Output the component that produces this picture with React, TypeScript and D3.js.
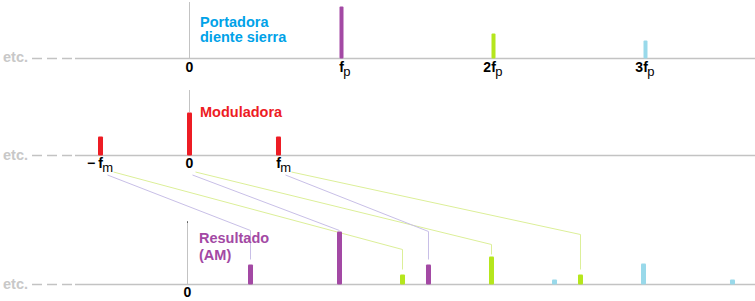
import React from "react";
import * as d3 from "d3";

const W = 755;
const H = 301;

// frequencies in units of the carrier frequency fp
const fmRatio = 0.5855;
const harmonics = [1, 2, 3];
const harmonicLabels = ["", "2", "3"];
const carrierAmp = [52, 25, 18];

const modOffsets = [-1, 0, 1];
const modAmp = [19, 43, 19];

const resultLowerAmp = [20, 10, 5];
const resultCenterAmp = [53, 28, 21];
const resultUpperAmp = [20, 10, 5];

const connFrom = [-1, -1, 0, 0, 1, 1];
const connHarm = [1, 2, 1, 2, 1, 2];
const connElbow = [54, 35, 54, 40, 53, 50];

const harmColors = ["#a349a4", "#b5e61d", "#99d9ea"];
const RED = "#ed1c24";
const GRAY = "#c3c3c3";
const connColors = ["#c8bfe7", "#dcef98"];
const FONT = "'Liberation Sans', Arial, sans-serif";

export default function App() {
  const xTop = d3.scaleLinear().domain([0, 1]).range([189.5, 341.5]);
  const xBot = d3.scaleLinear().domain([0, 1]).range([187.5, 339.5]);
  const yTopAxis = 58.5;
  const yMidAxis = 155.5;
  const yBotAxis = 284.5;
  const amp = d3.scaleLinear().domain([0, 60]).range([0, 60]);

  const axis = (y: number, etcY: number) => (
    <g>
      <text x={3} y={etcY} fontFamily={FONT} fontWeight="bold" fontSize={14.5} fill="#c8c8c8">
        etc.
      </text>
      <line x1={32} x2={75} y1={y} y2={y} stroke={GRAY} strokeWidth={1.5} strokeDasharray="10 5" />
      <line x1={75} x2={W} y1={y} y2={y} stroke={GRAY} strokeWidth={1.5} />
    </g>
  );

  const fLabel = (x: number, y: number, prefix: string, sub: string, key: string) => {
    const fW = 0.333 * 14;
    const pre = prefix === "\u2212" ? 8.2 + 3 : prefix ? 7.8 : 0;
    const start = x - fW / 2 - pre;
    return (
      <text key={key} x={start} y={y} fontFamily={FONT} fontSize={14} fill="#000" fontWeight="bold">
        {prefix ? <tspan>{prefix}</tspan> : null}
        <tspan dx={prefix === "\u2212" ? 3 : 0}>f</tspan>
        <tspan dx={-0.5} dy={4} fontSize={13} fontWeight="normal">
          {sub}
        </tspan>
      </text>
    );
  };

  const bar = (x: number, y0: number, a: number, color: string, w: number, key: string) => (
    <rect key={key} x={x - w / 2} y={y0 - amp(a)} width={w} height={amp(a)} fill={color} rx={1} />
  );

  // result bars
  const resultBars: JSX.Element[] = [];
  harmonics.forEach((h, i) => {
    const c = harmColors[i];
    resultBars.push(bar(xBot(h - fmRatio), yBotAxis, resultLowerAmp[i], c, 5, `rl${i}`));
    resultBars.push(bar(xBot(h), yBotAxis, resultCenterAmp[i], c, 5, `rc${i}`));
    resultBars.push(bar(xBot(h + fmRatio), yBotAxis, resultUpperAmp[i], c, 5, `ru${i}`));
  });

  const connectors = connFrom.map((f, i) => {
    const h = connHarm[i];
    const isGreen = h === 2 ? 1 : 0;
    const color = connColors[isGreen];
    const startOff = f === 0 ? (isGreen ? 6 : 3) : isGreen ? 13 : 7;
    const sx = xTop(f * fmRatio) + startOff;
    const sy = isGreen ? 172 : 175;
    const tf = h + f * fmRatio;
    const tx = xBot(tf);
    const ey = yBotAxis - amp(connElbow[i]);
    const targetAmp = f === 0 ? resultCenterAmp[h - 1] : f < 0 ? resultLowerAmp[h - 1] : resultUpperAmp[h - 1];
    const barTop = yBotAxis - amp(targetAmp);
    const gap = f === 0 ? 2 : 5;
    const endY = Math.max(ey, barTop - gap);
    const path = d3.path();
    path.moveTo(sx, sy);
    path.lineTo(tx, ey);
    path.lineTo(tx, endY);
    return <path key={`c${i}`} d={path.toString()} fill="none" stroke={color} strokeWidth={1} />;
  });

  return (
    <svg
      width={W}
      height={H}
      style={{ position: "absolute", left: 0, top: 0, background: "#fff" }}
    >
      {/* connectors */}
      {connectors}

      {/* TOP panel */}
      <line x1={189.5} x2={189.5} y1={2} y2={yTopAxis} stroke={GRAY} strokeWidth={1} />
      {axis(yTopAxis, 62)}
      {harmonics.map((h, i) => bar(xTop(h), yTopAxis, carrierAmp[i], harmColors[i], 4, `t${i}`))}
      <text x={xTop(0)} y={72} textAnchor="middle" fontFamily={FONT} fontWeight="bold" fontSize={14}>
        0
      </text>
      {harmonics.map((h, i) => fLabel(xTop(h), 72, harmonicLabels[i], "p", `tl${i}`))}
      <text fontFamily={FONT} fontWeight="bold" fontSize={14.5} fill="#00a2e8">
        <tspan x={200} y={26.5}>Portadora</tspan>
        <tspan x={200} y={41.5}>diente sierra</tspan>
      </text>

      {/* MIDDLE panel */}
      <line x1={189.5} x2={189.5} y1={90} y2={112} stroke={GRAY} strokeWidth={1} />
      {axis(yMidAxis, 160)}
      {modOffsets.map((m, i) => bar(xTop(m * fmRatio), yMidAxis, modAmp[i], RED, 5, `m${i}`))}
      <text x={xTop(0)} y={168} textAnchor="middle" fontFamily={FONT} fontWeight="bold" fontSize={14}>
        0
      </text>
      {fLabel(xTop(-fmRatio), 168, "\u2212", "m", "ml0")}
      {fLabel(xTop(fmRatio), 168, "", "m", "ml1")}
      <text x={200} y={117} fontFamily={FONT} fontWeight="bold" fontSize={14.5} fill={RED}>
        Moduladora
      </text>

      {/* BOTTOM panel */}
      <line x1={187.5} x2={187.5} y1={222} y2={yBotAxis} stroke={GRAY} strokeWidth={1} />
      <rect x={187} y={221.5} width={1} height={1} fill="#000" />
      {axis(yBotAxis, 289)}
      {resultBars}
      <text x={xBot(0)} y={297} textAnchor="middle" fontFamily={FONT} fontWeight="bold" fontSize={14}>
        0
      </text>
      <text fontFamily={FONT} fontWeight="bold" fontSize={14.5} fill="#a349a4">
        <tspan x={199} y={243}>Resultado</tspan>
        <tspan x={199} y={260}>(AM)</tspan>
      </text>
    </svg>
  );
}
